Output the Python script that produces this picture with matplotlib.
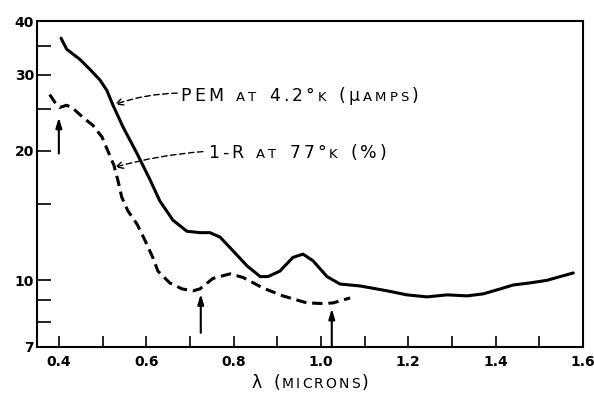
import numpy as np
import matplotlib
matplotlib.use("Agg")
import matplotlib.pyplot as plt
from matplotlib.ticker import FixedLocator, FixedFormatter, NullFormatter
from matplotlib.offsetbox import TextArea, HPacker, AnnotationBbox

# PEM signal at 4.2 K (micro amps), solid curve
pem_x = [0.405, 0.418, 0.448, 0.471, 0.494, 0.510, 0.524, 0.547, 0.579, 0.609,
         0.631, 0.661, 0.693, 0.723, 0.746, 0.769, 0.799, 0.831, 0.861, 0.879,
         0.906, 0.936, 0.959, 0.982, 1.014, 1.044, 1.090, 1.152, 1.197, 1.243,
         1.289, 1.335, 1.372, 1.411, 1.440, 1.479, 1.518, 1.548, 1.578]
pem_y = [36.5, 34.4, 32.6, 30.9, 29.2, 27.6, 25.5, 22.7, 19.7, 17.1,
         15.3, 13.8, 13.0, 12.9, 12.9, 12.6, 11.7, 10.8, 10.2, 10.2,
         10.5, 11.3, 11.5, 11.1, 10.2, 9.8, 9.7, 9.45, 9.25, 9.15,
         9.25, 9.2, 9.3, 9.55, 9.75, 9.86, 10.0, 10.2, 10.4]

# 1-R at 77 K (%), dashed curve
r_x = [0.379, 0.391, 0.402, 0.418, 0.432, 0.455, 0.478, 0.499, 0.512, 0.526,
       0.535, 0.544, 0.558, 0.579, 0.597, 0.615, 0.627, 0.654, 0.682, 0.707,
       0.723, 0.753, 0.792, 0.822, 0.867, 0.913, 0.968, 1.005, 1.028, 1.067]
r_y = [27.0, 25.9, 25.2, 25.5, 25.1, 23.9, 22.9, 21.5, 20.0, 18.5,
       17.1, 15.6, 14.5, 13.5, 12.4, 11.3, 10.5, 9.86, 9.55, 9.45,
       9.55, 10.1, 10.35, 10.15, 9.6, 9.2, 8.86, 8.83, 8.86, 9.1]

# marker arrows (x, tail y, tip y)
arrow_x = [0.40, 0.725, 1.025]
arrow_tail = [19.7, 7.55, 7.05]
arrow_tip = [23.9, 9.3, 8.6]

xticks_major = [0.4, 0.6, 0.8, 1.0, 1.2, 1.4, 1.6]
xticks_minor = [0.5, 0.7, 0.9, 1.1, 1.3, 1.5]
yticks_major = [7, 10, 20, 30, 40]
yticks_minor = [8, 9, 15, 25, 35]

fig = plt.figure(figsize=(5.94, 3.97), dpi=100)
ax = fig.add_axes([0.0623, 0.126, 0.919, 0.821])

ax.plot(pem_x, pem_y, color="black", linewidth=2.2,
        solid_capstyle="round", solid_joinstyle="round")
ax.plot(r_x, r_y, color="black", linewidth=2.2, dashes=(3.4, 1.9),
        dash_joinstyle="round")

ax.set_yscale("log")
ax.set_xlim(0.35, 1.6)
ax.set_ylim(7, 40)

ax.xaxis.set_major_locator(FixedLocator(xticks_major))
ax.xaxis.set_minor_locator(FixedLocator(xticks_minor))
ax.xaxis.set_major_formatter(FixedFormatter(["%.1f" % v for v in xticks_major]))
ax.yaxis.set_major_locator(FixedLocator(yticks_major))
ax.yaxis.set_minor_locator(FixedLocator(yticks_minor))
ax.yaxis.set_major_formatter(FixedFormatter([str(v) for v in yticks_major]))
ax.yaxis.set_minor_formatter(NullFormatter())

ax.tick_params(axis="x", which="both", direction="in", length=8, width=1.2, pad=6)
ax.tick_params(axis="y", which="both", direction="in", length=10, width=1.2, pad=2)
for lab in ax.get_xticklabels() + ax.get_yticklabels():
    lab.set_fontsize(10)
    lab.set_fontweight("bold")
for sp in ax.spines.values():
    sp.set_linewidth(1.5)

# vertical arrows
for xa, yt, yh in zip(arrow_x, arrow_tail, arrow_tip):
    ax.annotate("", xy=(xa, yh), xytext=(xa, yt),
                arrowprops=dict(arrowstyle="-|>,head_length=0.6,head_width=0.18",
                                color="black", lw=1.5, shrinkA=0, shrinkB=0))


def small_caps(pieces, big=12.5, small=9.5, sep=2.2):
    # lettering style: big caps, small caps, wide letter spacing
    boxes = []
    for txt, is_big in pieces:
        for ch in txt:
            if ch == " ":
                boxes.append(TextArea("\u2002", textprops=dict(fontsize=small)))
            else:
                boxes.append(TextArea(ch, textprops=dict(
                    fontsize=big if is_big else small, color="black")))
    return HPacker(children=boxes, align="baseline", pad=0, sep=sep)


pem_label = small_caps([("PEM ", True), ("AT ", False), ("4.2°", True), ("K ", False),
                        ("(", True), ("μ", True), ("AMPS", False), (")", True)])
r_label = small_caps([("1-R ", True), ("AT ", False), ("77°", True), ("K ", False),
                      ("(%)", True)])

ax.add_artist(AnnotationBbox(pem_label, (0.679, 26.8), xycoords="data",
                             box_alignment=(0, 0.5), frameon=False, pad=0))
ax.add_artist(AnnotationBbox(r_label, (0.741, 19.8), xycoords="data",
                             box_alignment=(0, 0.5), frameon=False, pad=0))

ax.annotate("", xy=(0.528, 25.6), xytext=(0.671, 27.2),
            arrowprops=dict(arrowstyle="->,head_length=0.5,head_width=0.25",
                            color="black", lw=1.0, linestyle=(0, (4, 2.5)),
                            connectionstyle="arc3,rad=0.08", shrinkA=0, shrinkB=0))
ax.annotate("", xy=(0.528, 18.3), xytext=(0.730, 19.9),
            arrowprops=dict(arrowstyle="->,head_length=0.5,head_width=0.25",
                            color="black", lw=1.0, linestyle=(0, (4, 2.5)),
                            connectionstyle="arc3,rad=0.05", shrinkA=0, shrinkB=0))

xlabel = small_caps([("λ", True), (" (", True), ("MICRONS", False), (")", True)],
                    big=12.5, small=10, sep=1.5)
fig.add_artist(AnnotationBbox(xlabel, (0.522, 0.035), xycoords="figure fraction",
                              box_alignment=(0.5, 0.5), frameon=False, pad=0))

fig.savefig("out.png", dpi=100)
